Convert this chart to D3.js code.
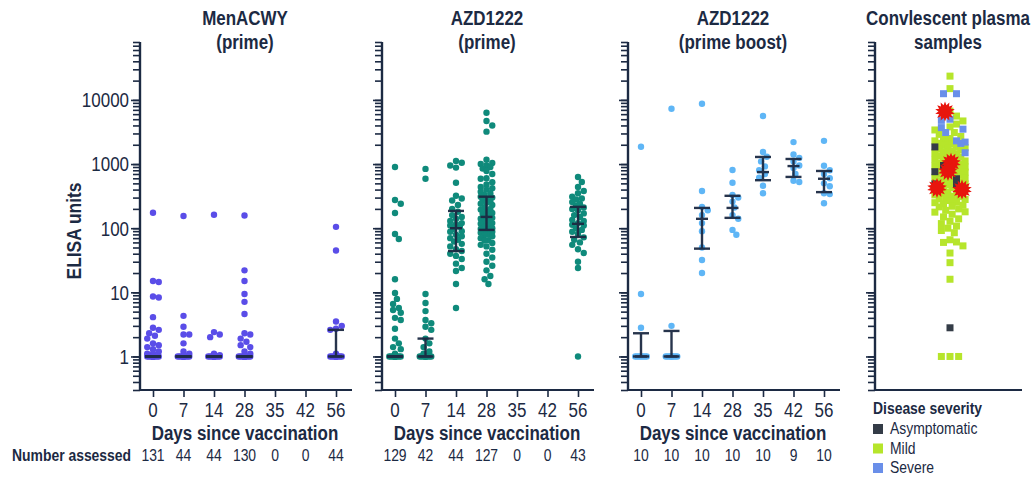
<!DOCTYPE html>
<html>
<head>
<meta charset="utf-8">
<script src="https://cdn.jsdelivr.net/npm/d3@7"></script>
<style>
  body { margin: 0; background: #fff; }
  text { font-family: "Liberation Sans", Arial, sans-serif; fill: #1c2a43; }
</style>
</head>
<body>
<svg id="chart" width="1034" height="478"></svg>
<script>
// days on the x axis of the three vaccine panels
const days = ["0", "7", "14", "28", "35", "42", "56"]

// MenACWY (prime)
const menacwyValues = [
    [174, 15, 14.5, 8.6, 8.3, 4.1, 2.8, 2.6, 2.3, 2.1, 1.9, 1.6, 1.5, 1.4, 1.3, 1.2, 1.1, 1.1, 1, 1, 1, 1, 1, 1, 1, 1, 1, 1, 1, 1, 1, 1],
    [155, 4.3, 2.9, 2.2, 2.2, 1.6, 1.2, 1.1, 1, 1, 1, 1, 1, 1, 1, 1, 1, 1, 1, 1],
    [162, 2.4, 2.2, 2.0, 1.1, 1.05, 1, 1, 1, 1, 1, 1, 1, 1, 1, 1, 1, 1],
    [158, 22, 15, 9.4, 7.1, 4.6, 2.3, 2.2, 1.9, 1.7, 1.5, 1.4, 1.2, 1.1, 1, 1, 1, 1, 1, 1, 1, 1, 1, 1, 1, 1, 1, 1],
    [],
    [],
    [105, 45, 3.5, 3.0, 2.7, 2.6, 1.1, 1, 1, 1, 1, 1, 1, 1, 1, 1, 1, 1]
]
const menacwyMedian = [1, 1, 1, 1, null, null, 1]
const menacwyQ1 = [1, 1, 1, 1, null, null, 1]
const menacwyQ3 = [1, 1, 1, 1, null, null, 2.6]
const menacwyN = [131, 44, 44, 130, 0, 0, 44]

// AZD1222 (prime)
const primeValues = [
    [900, 275, 240, 173, 81, 68, 16, 9.8, 7.9, 6.6, 5.7, 5.3, 4.8, 4.0, 3.7, 2.7, 1.9, 1.6, 1.4, 1.3, 1.1, 1, 1, 1, 1, 1, 1, 1, 1, 1, 1, 1, 1],
    [840, 590, 9.4, 6.8, 5.1, 3.7, 3.3, 2.9, 2.6, 1.9, 1.6, 1.4, 1.2, 1.1, 1, 1, 1, 1, 1, 1, 1, 1, 1, 1],
    [1120, 1050, 950, 880, 510, 320, 290, 270, 180, 150, 230, 200, 130, 115, 97, 105, 79, 88, 66, 57, 70, 47, 52, 37, 33, 28, 24, 21.5, 13.5, 5.7, 140, 120, 160, 110, 62, 44, 40, 90, 75],
    [6300, 4700, 4000, 3200, 1170, 1040, 950, 850, 780, 700, 590, 520, 440, 400, 370, 350, 330, 310, 290, 270, 250, 230, 210, 195, 173, 160, 145, 130, 117, 105, 97, 90, 85, 78, 70, 64, 59, 52, 46, 40, 35, 30, 26, 22, 18, 16, 13.5, 600, 480, 300, 180, 125, 110, 75, 200, 240, 150, 88, 100, 140, 65, 55, 1000, 900, 420, 260, 170, 120, 95, 80],
    [],
    [],
    [630, 525, 440, 380, 310, 290, 255, 225, 190, 160, 135, 113, 94, 81, 66, 47, 41, 30, 24, 1, 200, 170, 150, 120, 100, 88, 72, 350, 280, 240, 210, 130, 110, 60, 55]
]
const primeMedian = [1, 1, 100, 150, null, null, 117]
const primeQ1 = [1, 1, 44, 94, null, null, 73]
const primeQ3 = [1, 1.9, 186, 310, null, null, 215]
const primeN = [129, 42, 44, 127, 0, 0, 43]

// AZD1222 (prime boost)
const boostValues = [
    [1860, 9.4, 2.8, 1, 1, 1, 1, 1, 1, 1],
    [7300, 3.0, 1, 1, 1, 1, 1, 1, 1, 1],
    [8700, 380, 215, 190, 160, 120, 90, 50, 32, 20],
    [810, 510, 330, 300, 260, 210, 160, 140, 94, 79],
    [5600, 1540, 1300, 1100, 920, 800, 700, 610, 460, 350],
    [2200, 1410, 1250, 1100, 950, 870, 700, 550, 525],
    [2300, 940, 800, 700, 600, 500, 450, 350, 340, 245]
]
const boostMedian = [1, 1, 140, 207, 750, 930, 590]
const boostQ1 = [1, 1, 48, 145, 560, 630, 365]
const boostQ3 = [2.3, 2.5, 207, 320, 1290, 1200, 780]
const boostN = [10, 10, 10, 10, 10, 9, 10]

// convalescent plasma samples by disease severity
const asymptomatic = [1850, 950, 760, 590, 490, 480, 2.8]
const mild = [23500, 15000, 6700, 5600, 4700, 4200, 3800, 3400, 3100, 2900, 2700, 2500, 2450, 2300, 2150, 2050,
    1950, 1850, 1800, 1700, 1650, 1600, 1520, 1450, 1400, 1330, 1280, 1220, 1180, 1120, 1080, 1030, 990, 960,
    930, 900, 860, 830, 800, 780, 750, 720, 700, 670, 640, 620, 600, 570, 550, 530, 510, 490, 470, 450, 430,
    410, 395, 380, 360, 345, 330, 315, 300, 285, 270, 255, 240, 228, 215, 200, 190, 178, 165, 150, 140, 128,
    118, 108, 100, 92, 85, 1500, 1100, 900, 750, 650, 520, 460, 420, 350, 310, 280, 250, 220, 180, 1250, 1750,
    2100, 850, 66, 61, 60, 53, 41, 29, 16, 1, 1, 1]
const severe = [12500, 12500, 5000, 4800, 3700, 3500, 3100, 2300, 2200, 2100, 1500]
const starSamples = [6600, 1050, 780, 425, 400]

const severityNames = ["Asymptomatic", "Mild", "Severe"]
const severityColors = ["#343c47", "#b6e52b", "#6a8fe9"]

const ink = "#1c2a43"
const SX = 0.87   // the original lettering is narrow

const svg = d3.select("#chart")

const y = d3.scaleLog().domain([0.3, 80000]).range([390, 42])
const xAxisY = 390

function txt(g, x, yy, s, size, weight, anchor) {
    return g.append("text")
        .attr("transform", `translate(${x},${yy}) scale(${SX},1)`)
        .attr("text-anchor", anchor || "middle")
        .attr("font-size", size)
        .attr("font-weight", weight || "normal")
        .text(s)
}

function yAxis(axisX, labels) {
    const g = svg.append("g").attr("transform", `translate(${axisX},0)`)
    g.call(d3.axisLeft(y).tickValues(y.ticks()).tickSize(7).tickFormat(""))
    const major = g.append("g")
    major.call(d3.axisLeft(y).tickValues([1, 10, 100, 1000, 10000]).tickSize(9)
        .tickFormat(labels ? d3.format("d") : ""))
    g.selectAll("path.domain").attr("stroke", ink).attr("stroke-width", 2.2)
    g.selectAll(".tick line").attr("stroke", ink).attr("stroke-width", 1.6)
    major.selectAll(".tick text")
        .attr("font-size", 19.5).attr("fill", ink)
        .attr("font-family", '"Liberation Sans", Arial, sans-serif')
        .attr("x", 0).attr("dy", "0.35em")
        .attr("transform", `translate(-11,0) scale(${SX},1)`)
    g.selectAll("path.domain").attr("d", `M0,${y.range()[1]}V${xAxisY}`)
}

// spread points sideways so they don't sit on top of each other
function swarm(vals, r, maxW) {
    const pts = vals.map(v => ({ v: v, y: y(v) })).sort((a, b) => a.y - b.y)
    const placed = []
    const step = r * 0.6
    const cands = [0]
    for (let k = 1; k * step <= maxW; k++) cands.push(k * step, -k * step)
    pts.forEach(p => {
        let best = 0, bestD = -1
        for (const dx of cands) {
            let md = Infinity
            for (const q of placed) {
                if (Math.abs(q.y - p.y) < 2 * r) {
                    const d = Math.hypot(q.dx - dx, q.y - p.y)
                    if (d < md) md = d
                }
            }
            if (md >= 2 * r * 0.95) { best = dx; break }
            if (md > bestD) { bestD = md; best = dx }
        }
        p.dx = best
        placed.push(p)
    })
    return pts
}

function vaccinePanel(opts) {
    const x = d3.scalePoint().domain(days).range([opts.axisX + 13, opts.axisX + 196])
    const g = svg.append("g")

    yAxis(opts.axisX, opts.labels)

    // x axis
    const xa = svg.append("g").attr("transform", `translate(0,${xAxisY})`)
        .call(d3.axisBottom(x).tickSize(7).tickFormat(""))
    xa.select("path.domain").attr("d", `M${opts.axisX},0H${opts.axisX + 212}`)
        .attr("stroke", ink).attr("stroke-width", 2.2)
    xa.selectAll(".tick line").attr("stroke", ink).attr("stroke-width", 1.6)
    days.forEach(d => txt(svg, x(d), 417, d, 19.5))

    const mid = opts.axisX + 105
    txt(svg, mid, 440, "Days since vaccination", 19.5, "bold")
    opts.title.forEach((t, i) => txt(svg, mid, 25 + i * 24, t, 19.5, "bold"))
    opts.n.forEach((n, i) => txt(svg, x(days[i]), 461, n, 16))

    // points
    opts.values.forEach((vals, i) => {
        const cx = x(days[i])
        g.selectAll(null).data(swarm(vals, 3.2, 6.5)).join("circle")
            .attr("cx", p => cx + p.dx)
            .attr("cy", p => p.y)
            .attr("r", 3.2)
            .attr("fill", opts.color)
    })

    // median and interquartile range
    days.forEach((d, i) => {
        if (opts.median[i] == null) return
        const cx = x(d)
        const bar = g.append("g").attr("stroke", ink).attr("stroke-width", 2.4).attr("opacity", 0.95)
        bar.append("line").attr("x1", cx).attr("x2", cx)
            .attr("y1", y(opts.q3[i])).attr("y2", y(opts.q1[i]))
        ;[opts.q1[i], opts.q3[i]].forEach(v => bar.append("line")
            .attr("x1", cx - 8).attr("x2", cx + 8).attr("y1", y(v)).attr("y2", y(v)))
        const mw = opts.q1[i] === opts.q3[i] ? 8 : 6
        bar.append("line").attr("x1", cx - mw).attr("x2", cx + mw)
            .attr("y1", y(opts.median[i])).attr("y2", y(opts.median[i]))
    })
}

vaccinePanel({
    axisX: 140, labels: true, color: "#5a4de8", title: ["MenACWY", "(prime)"],
    values: menacwyValues, median: menacwyMedian, q1: menacwyQ1, q3: menacwyQ3, n: menacwyN
})
vaccinePanel({
    axisX: 382, labels: false, color: "#0f8a7b", title: ["AZD1222", "(prime)"],
    values: primeValues, median: primeMedian, q1: primeQ1, q3: primeQ3, n: primeN
})
vaccinePanel({
    axisX: 628, labels: false, color: "#5fb6f6", title: ["AZD1222", "(prime boost)"],
    values: boostValues, median: boostMedian, q1: boostQ1, q3: boostQ3, n: boostN
})

// y label and number assessed label
svg.append("text")
    .attr("transform", `translate(81,231) rotate(-90) scale(${SX},1)`)
    .attr("text-anchor", "middle").attr("font-size", 20).attr("font-weight", "bold")
    .text("ELISA units")
txt(svg, 12, 461, "Number assessed", 16, "bold", "start")

// convalescent plasma panel
const cpAxisX = 875
const cpX = 950
yAxis(cpAxisX, false)
svg.append("line").attr("x1", cpAxisX).attr("x2", 1022).attr("y1", xAxisY).attr("y2", xAxisY)
    .attr("stroke", ink).attr("stroke-width", 2.2)
txt(svg, 948, 25, "Convlescent plasma", 19.5, "bold")
txt(svg, 948, 49, "samples", 19.5, "bold")

const cpGroups = [asymptomatic, mild, severe]
const cpAll = []
cpGroups.forEach((vals, gi) => vals.forEach(v => cpAll.push({ v: v, gi: gi })))
const cpSwarm = swarm(cpAll.map(d => d.v), 3.6, 16)
// keep colour with its value after sorting
const used = cpAll.map(() => false)
cpSwarm.forEach(p => {
    const k = cpAll.findIndex((d, j) => !used[j] && d.v === p.v)
    used[k] = true
    p.gi = cpAll[k].gi
})
const sq = 7
svg.append("g").selectAll("rect").data(cpSwarm.filter(p => p.gi === 1)
    .concat(cpSwarm.filter(p => p.gi !== 1))).join("rect")
    .attr("x", p => cpX + p.dx - sq / 2)
    .attr("y", p => p.y - sq / 2)
    .attr("width", sq).attr("height", sq)
    .attr("fill", p => severityColors[p.gi])

// red burst markers
function burst(ro, ri, n) {
    const pts = []
    for (let i = 0; i < 2 * n; i++) {
        const a = Math.PI * i / n
        const r = i % 2 ? ri : ro
        pts.push([r * Math.sin(a), -r * Math.cos(a)])
    }
    return "M" + pts.map(p => p.join(",")).join("L") + "Z"
}
const starOffsets = [-5, 1, -2, -13, 12]
svg.append("g").selectAll("path").data(starSamples).join("path")
    .attr("d", burst(10, 6.5, 14))
    .attr("transform", (v, i) => `translate(${cpX + starOffsets[i]},${y(v)})`)
    .attr("fill", "#e8150d")

// legend
txt(svg, 873, 414, "Disease severity", 16, "bold", "start")
severityNames.forEach((s, i) => {
    svg.append("rect").attr("x", 873).attr("y", 424 + i * 19.5).attr("width", 10).attr("height", 10)
        .attr("fill", severityColors[i])
    txt(svg, 890, 434 + i * 19.5, s, 16, "normal", "start")
})
</script>
</body>
</html>
